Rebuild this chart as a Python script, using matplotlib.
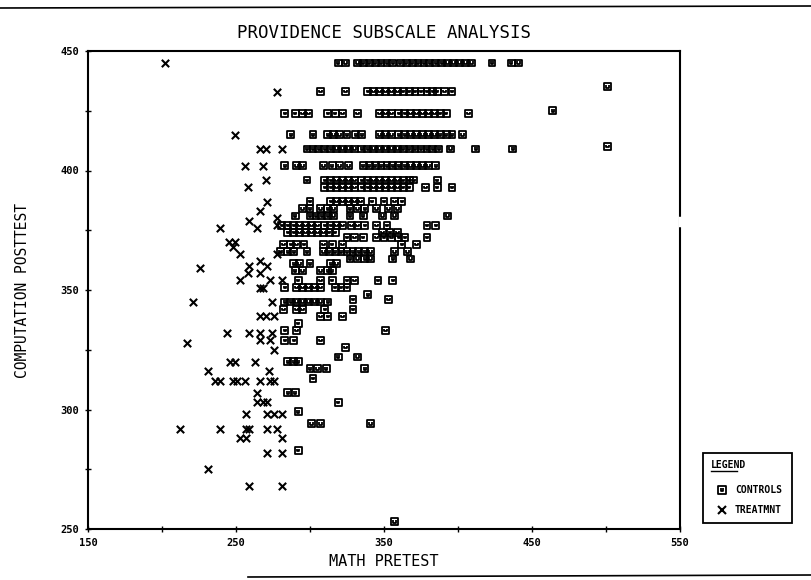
import numpy as np
import matplotlib
matplotlib.use("Agg")
import matplotlib.pyplot as plt
from matplotlib.path import Path
from matplotlib.lines import Line2D

# CONTROLS: posttest score of each row and the pretest scores found on it
control_post = [445, 435, 433, 425, 424, 415, 410, 409, 402, 396, 393, 387,
                384, 381, 377, 374, 372, 369, 366, 363, 361, 358, 354, 351,
                348, 346, 345, 342, 339, 336, 333, 329, 326, 322, 320, 317,
                313, 307, 303, 299, 294, 283, 253]
control_pre = [
    [319, 324, 332, 336, 340, 344, 348, 352, 356, 361, 365, 369, 373, 377,
     381, 385, 389, 393, 397, 401, 405, 409, 423, 436, 441],
    [501],
    [307, 324, 339, 343, 347, 351, 355, 359, 363, 367, 371, 375, 379, 383,
     386, 391, 396],
    [464],
    [283, 290, 295, 299, 312, 317, 322, 332, 347, 351, 355, 360, 364, 368,
     372, 376, 380, 384, 388, 392, 407],
    [287, 302, 312, 316, 320, 325, 331, 335, 347, 351, 355, 360, 364, 368,
     372, 376, 380, 384, 388, 392, 396, 403],
    [501],
    [298, 302, 306, 310, 314, 318, 322, 326, 330, 335, 339, 343, 347, 351,
     355, 359, 363, 367, 371, 375, 379, 383, 387, 395, 412, 437],
    [283, 291, 295, 309, 315, 320, 326, 336, 340, 344, 348, 352, 356, 360,
     364, 368, 372, 376, 380, 385],
    [298, 310, 314, 318, 322, 326, 330, 335, 339, 343, 347, 351, 355, 359,
     363, 367, 370, 386],
    [310, 314, 318, 322, 326, 330, 335, 339, 343, 347, 351, 355, 359, 363,
     367, 378, 386, 396],
    [300, 314, 318, 322, 326, 330, 334, 342, 350, 357, 362],
    [295, 300, 307, 312, 316, 327, 332, 337, 345, 353, 359],
    [290, 300, 304, 308, 312, 316, 327, 336, 349, 357, 393],
    [281, 285, 289, 293, 297, 301, 305, 310, 314, 318, 322, 328, 332, 337,
     345, 352, 379, 385],
    [285, 289, 293, 297, 301, 305, 309, 313, 317, 349, 354, 359],
    [325, 330, 336, 345, 350, 355, 360, 364, 379],
    [282, 287, 291, 296, 309, 315, 322, 362, 372],
    [280, 285, 289, 298, 309, 313, 317, 321, 325, 329, 333, 337, 341, 357,
     366],
    [327, 332, 337, 341, 356, 368],
    [289, 293, 300, 314, 318],
    [290, 295, 307, 312, 315],
    [292, 307, 315, 325, 330, 346, 356],
    [283, 291, 295, 299, 303, 307, 317, 321, 325],
    [339],
    [329, 353],
    [283, 287, 291, 295, 299, 303, 307, 312],
    [282, 291, 295, 310, 329],
    [307, 312, 322],
    [292],
    [283, 291, 351],
    [283, 289, 307],
    [324],
    [319, 332],
    [285, 289, 292],
    [300, 305, 311, 337],
    [302],
    [285, 290],
    [319],
    [292],
    [301, 307, 341],
    [292],
    [357],
]

# TREATMENT group, same layout
treat_post = [445, 433, 415, 409, 402, 396, 393, 387, 383, 380, 379, 377,
              376, 370, 368, 365, 362, 360, 359, 357, 354, 351, 345, 339,
              332, 329, 328, 325, 320, 316, 312, 307, 303, 298, 292, 288,
              282, 275, 268]
treat_pre = [
    [202], [278], [249], [266, 270, 281], [256, 268], [270], [258], [271],
    [266], [278], [259], [278], [239, 264], [245, 249], [248], [253, 278],
    [266], [259, 271], [226], [258, 266], [253, 273, 281], [266, 268],
    [221, 274], [266, 270, 276], [244, 259, 266, 274], [266, 273], [217],
    [276], [246, 249, 263], [231, 272],
    [236, 239, 248, 251, 256, 266, 273, 276], [264], [264, 268, 271],
    [257, 271, 276, 281], [212, 239, 257, 259, 271, 278], [253, 257, 281],
    [271, 281], [231], [259, 281],
]

X_TICKS = [150, 200, 250, 300, 350, 400, 450, 500, 550]
X_LABELS = ["150", "", "250", "", "350", "", "450", "", "550"]
Y_TICKS = [250, 275, 300, 325, 350, 375, 400, 425, 450]
Y_LABELS = ["250", "", "300", "", "350", "", "400", "", "450"]

FONT = "DejaVu Sans Mono"


def flatten(levels, rows):
    xs = np.concatenate([np.asarray(r, float) for r in rows])
    ys = np.repeat(np.asarray(levels, float), [len(r) for r in rows])
    return xs, ys


# square with a small "U" inside, like the old plotter symbol
verts = [(-1, -1), (1, -1), (1, 1), (-1, 1), (-1, -1),
         (-0.35, 0.45), (-0.35, -0.25), (0.35, -0.25), (0.35, 0.45)]
codes = [Path.MOVETO, Path.LINETO, Path.LINETO, Path.LINETO, Path.CLOSEPOLY,
         Path.MOVETO, Path.LINETO, Path.LINETO, Path.LINETO]
box_u = Path(verts, codes)

cx, cy = flatten(control_post, control_pre)
tx, ty = flatten(treat_post, treat_pre)

fig = plt.figure(figsize=(8.11, 5.80), dpi=100)
ax = fig.add_axes([88 / 811, 1 - 529 / 580, 592 / 811, 478 / 580])

ax.scatter(cx, cy, marker=box_u, s=24, facecolors="none",
           edgecolors="black", linewidths=1.3, zorder=3)
ax.scatter(tx, ty, marker="x", s=28, color="black", linewidths=1.5,
           zorder=3)

ax.set_xlim(150, 550)
ax.set_ylim(250, 450)
ax.set_xticks(X_TICKS)
ax.set_xticklabels(X_LABELS)
ax.set_yticks(Y_TICKS)
ax.set_yticklabels(Y_LABELS)
ax.tick_params(direction="inout", length=5, width=1, pad=4,
               labelsize=7.5)
for lab in ax.get_xticklabels() + ax.get_yticklabels():
    lab.set_family(FONT)
    lab.set_weight("bold")
for sp in ax.spines.values():
    sp.set_linewidth(1.5)

# the pen skipped a few pixels on the right edge
ax.plot([1, 1], [0.636, 0.651], transform=ax.transAxes, color="white",
        lw=2.5, clip_on=False, zorder=5)

ax.set_xlabel("MATH PRETEST", family=FONT, fontsize=11, labelpad=4)
ax.set_ylabel("COMPUTATION POSTTEST", family=FONT, fontsize=10.5,
              labelpad=22)
fig.text(384 / 811, 1 - 33 / 580, "PROVIDENCE SUBSCALE ANALYSIS",
         family=FONT, fontsize=12.5, ha="center", va="center")

# legend box drawn by hand to the right of the frame
lx0, ly0, lx1, ly1 = 703 / 811, 1 - 523 / 580, 792 / 811, 1 - 453 / 580
fig.add_artist(plt.Rectangle((lx0, ly0), lx1 - lx0, ly1 - ly0,
                             transform=fig.transFigure, fill=False,
                             lw=1.3, color="black"))
fig.text(711 / 811, 1 - 465 / 580, "LEGEND", family=FONT, fontsize=7,
         weight="bold", va="center")
fig.add_artist(Line2D([711 / 811, 737 / 811], [1 - 471 / 580] * 2,
                      transform=fig.transFigure, lw=1, color="black"))
fig.add_artist(Line2D([722 / 811], [1 - 490 / 580], marker=box_u,
                      markersize=5.5, mfc="none", mec="black", mew=1.3,
                      transform=fig.transFigure))
fig.text(735 / 811, 1 - 490 / 580, "CONTROLS", family=FONT, fontsize=7,
         weight="bold", va="center")
fig.add_artist(Line2D([722 / 811], [1 - 510 / 580], marker="x",
                      markersize=6, mec="black", mew=1.5,
                      transform=fig.transFigure))
fig.text(735 / 811, 1 - 510 / 580, "TREATMNT", family=FONT, fontsize=7,
         weight="bold", va="center")

# page edges
fig.add_artist(Line2D([0, 1], [1 - 8 / 580, 1 - 6 / 580],
                      transform=fig.transFigure, lw=1.2, color="black"))
fig.add_artist(Line2D([248 / 811, 1], [1 - 577 / 580, 1 - 575 / 580],
                      transform=fig.transFigure, lw=1.2, color="black"))

fig.savefig("out.png", dpi=100)
